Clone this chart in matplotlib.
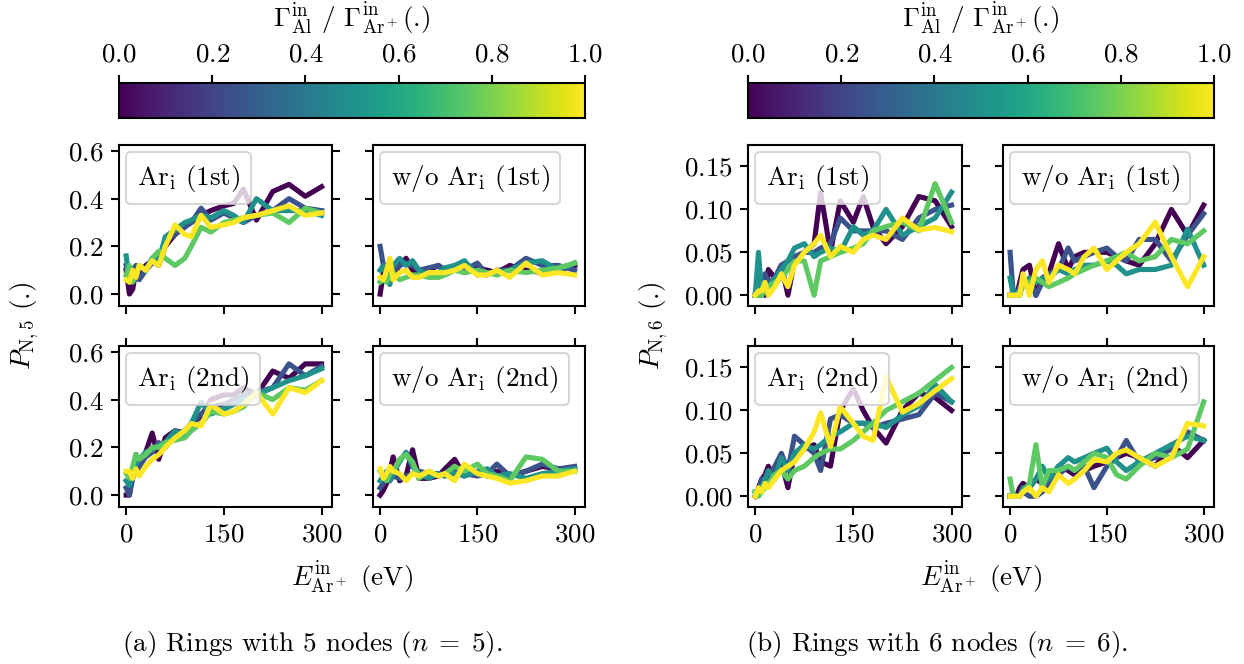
import matplotlib
matplotlib.use("Agg")
import matplotlib.pyplot as plt
import numpy as np
from matplotlib.lines import Line2D

plt.rcParams['font.family'] = 'serif'
plt.rcParams['font.serif'] = ['cmr10']
plt.rcParams['mathtext.fontset'] = 'cm'
plt.rcParams['axes.formatter.use_mathtext'] = True
plt.rcParams['axes.unicode_minus'] = False
plt.rcParams['font.size'] = 19.5
plt.rcParams['axes.linewidth'] = 1.5

FS = 19.5

# incident Ar+ energy (eV)
energy = [0, 5, 10, 15, 20, 30, 40, 50, 60, 75, 90, 100, 115, 130, 150, 165, 180, 200, 225, 250, 275, 300]
# flux ratio of each curve
ratios = [0.0, 0.25, 0.5, 0.75, 1.0]

# (a) n = 5, Ar_i (1st)
a_ari_1st = [
    [0.10, 0.00, 0.02, 0.10, 0.08, 0.12, 0.14, 0.12, 0.20, 0.25, 0.29, 0.30, 0.33, 0.35, 0.37, 0.38, 0.44, 0.31, 0.43, 0.46, 0.41, 0.45],
    [0.12, 0.06, 0.10, 0.12, 0.06, 0.10, 0.13, 0.14, 0.22, 0.25, 0.28, 0.30, 0.36, 0.31, 0.34, 0.32, 0.30, 0.33, 0.35, 0.40, 0.36, 0.35],
    [0.16, 0.05, 0.10, 0.08, 0.12, 0.10, 0.15, 0.14, 0.24, 0.27, 0.30, 0.31, 0.33, 0.32, 0.35, 0.33, 0.30, 0.40, 0.35, 0.35, 0.35, 0.33],
    [0.08, 0.12, 0.05, 0.08, 0.12, 0.10, 0.15, 0.18, 0.15, 0.12, 0.15, 0.20, 0.28, 0.26, 0.30, 0.31, 0.32, 0.33, 0.34, 0.30, 0.36, 0.34],
    [0.06, 0.05, 0.10, 0.07, 0.12, 0.10, 0.14, 0.12, 0.20, 0.29, 0.25, 0.24, 0.33, 0.28, 0.29, 0.30, 0.32, 0.33, 0.35, 0.37, 0.33, 0.34],
]
# (a) n = 5, w/o Ar_i (1st)
a_wo_1st = [
    [0.00, 0.09, 0.07, 0.10, 0.08, 0.12, 0.15, 0.10, 0.08, 0.10, 0.12, 0.10, 0.11, 0.09, 0.11, 0.10, 0.09, 0.12, 0.10, 0.09, 0.10, 0.12],
    [0.20, 0.12, 0.12, 0.05, 0.10, 0.12, 0.13, 0.12, 0.10, 0.11, 0.12, 0.10, 0.12, 0.10, 0.13, 0.08, 0.10, 0.10, 0.15, 0.12, 0.12, 0.10],
    [0.10, 0.12, 0.08, 0.04, 0.12, 0.15, 0.12, 0.14, 0.10, 0.08, 0.09, 0.11, 0.12, 0.14, 0.08, 0.09, 0.09, 0.10, 0.13, 0.14, 0.10, 0.13],
    [0.05, 0.06, 0.05, 0.08, 0.09, 0.06, 0.07, 0.08, 0.08, 0.07, 0.07, 0.08, 0.10, 0.09, 0.10, 0.09, 0.08, 0.10, 0.09, 0.10, 0.11, 0.13],
    [0.07, 0.06, 0.10, 0.15, 0.06, 0.09, 0.10, 0.07, 0.07, 0.09, 0.09, 0.09, 0.10, 0.12, 0.08, 0.08, 0.10, 0.07, 0.13, 0.08, 0.09, 0.08],
]
# (a) n = 5, Ar_i (2nd)
a_ari_2nd = [
    [0.00, 0.00, 0.10, 0.17, 0.12, 0.18, 0.26, 0.15, 0.24, 0.27, 0.26, 0.30, 0.33, 0.40, 0.42, 0.42, 0.45, 0.42, 0.52, 0.49, 0.55, 0.55],
    [0.03, 0.00, 0.07, 0.10, 0.12, 0.16, 0.18, 0.22, 0.20, 0.25, 0.27, 0.30, 0.34, 0.37, 0.38, 0.40, 0.42, 0.43, 0.45, 0.55, 0.50, 0.54],
    [0.06, 0.04, 0.10, 0.13, 0.15, 0.18, 0.19, 0.21, 0.22, 0.27, 0.25, 0.30, 0.39, 0.34, 0.36, 0.38, 0.40, 0.42, 0.45, 0.48, 0.50, 0.53],
    [0.09, 0.07, 0.12, 0.17, 0.15, 0.17, 0.20, 0.20, 0.22, 0.23, 0.24, 0.27, 0.30, 0.35, 0.34, 0.35, 0.37, 0.43, 0.40, 0.45, 0.44, 0.48],
    [0.10, 0.10, 0.07, 0.11, 0.08, 0.12, 0.15, 0.17, 0.20, 0.24, 0.27, 0.30, 0.29, 0.38, 0.34, 0.35, 0.38, 0.43, 0.34, 0.45, 0.43, 0.48],
]
# (a) n = 5, w/o Ar_i (2nd)
a_wo_2nd = [
    [0.00, 0.02, 0.05, 0.10, 0.16, 0.06, 0.08, 0.19, 0.07, 0.07, 0.08, 0.11, 0.15, 0.08, 0.10, 0.08, 0.10, 0.08, 0.10, 0.12, 0.11, 0.11],
    [0.03, 0.05, 0.08, 0.06, 0.08, 0.07, 0.08, 0.09, 0.10, 0.09, 0.09, 0.08, 0.10, 0.09, 0.08, 0.09, 0.13, 0.08, 0.10, 0.13, 0.11, 0.12],
    [0.06, 0.08, 0.10, 0.06, 0.09, 0.14, 0.18, 0.12, 0.09, 0.07, 0.09, 0.08, 0.09, 0.08, 0.10, 0.11, 0.08, 0.09, 0.07, 0.09, 0.10, 0.11],
    [0.10, 0.08, 0.06, 0.09, 0.10, 0.15, 0.17, 0.14, 0.07, 0.10, 0.08, 0.09, 0.12, 0.10, 0.13, 0.09, 0.08, 0.06, 0.16, 0.15, 0.10, 0.10],
    [0.11, 0.07, 0.09, 0.12, 0.10, 0.09, 0.06, 0.09, 0.08, 0.10, 0.08, 0.09, 0.06, 0.13, 0.09, 0.08, 0.07, 0.05, 0.06, 0.08, 0.08, 0.10],
]
# (b) n = 6, Ar_i (1st)
b_ari_1st = [
    [0.00, 0.00, 0.01, 0.00, 0.03, 0.02, 0.035, 0.00, 0.04, 0.05, 0.06, 0.12, 0.05, 0.11, 0.085, 0.115, 0.08, 0.06, 0.08, 0.115, 0.11, 0.08],
    [0.00, 0.00, 0.00, 0.025, 0.015, 0.02, 0.035, 0.04, 0.045, 0.05, 0.05, 0.055, 0.06, 0.09, 0.075, 0.075, 0.075, 0.075, 0.065, 0.09, 0.10, 0.105],
    [0.00, 0.05, 0.00, 0.01, 0.01, 0.02, 0.03, 0.04, 0.055, 0.06, 0.045, 0.05, 0.055, 0.05, 0.08, 0.07, 0.075, 0.10, 0.07, 0.08, 0.09, 0.12],
    [0.00, 0.00, 0.00, 0.01, 0.01, 0.015, 0.02, 0.03, 0.04, 0.04, 0.00, 0.04, 0.045, 0.05, 0.055, 0.06, 0.075, 0.08, 0.085, 0.075, 0.13, 0.085],
    [0.00, 0.005, 0.005, 0.015, 0.00, 0.01, 0.025, 0.01, 0.035, 0.05, 0.06, 0.07, 0.045, 0.057, 0.05, 0.065, 0.07, 0.065, 0.09, 0.076, 0.079, 0.074],
]
# (b) n = 6, w/o Ar_i (1st)
b_wo_1st = [
    [0.00, 0.00, 0.00, 0.015, 0.03, 0.035, 0.00, 0.02, 0.025, 0.06, 0.03, 0.045, 0.05, 0.05, 0.05, 0.045, 0.04, 0.035, 0.06, 0.10, 0.07, 0.105],
    [0.05, 0.00, 0.00, 0.01, 0.015, 0.02, 0.00, 0.015, 0.025, 0.03, 0.055, 0.04, 0.045, 0.05, 0.055, 0.045, 0.04, 0.065, 0.065, 0.04, 0.07, 0.095],
    [0.02, 0.00, 0.00, 0.00, 0.015, 0.02, 0.015, 0.02, 0.02, 0.03, 0.025, 0.03, 0.035, 0.035, 0.04, 0.035, 0.025, 0.03, 0.03, 0.035, 0.077, 0.035],
    [0.00, 0.00, 0.00, 0.005, 0.01, 0.015, 0.02, 0.015, 0.01, 0.015, 0.02, 0.025, 0.03, 0.035, 0.04, 0.045, 0.05, 0.04, 0.045, 0.065, 0.06, 0.075],
    [0.00, 0.00, 0.00, 0.00, 0.025, 0.00, 0.03, 0.04, 0.015, 0.035, 0.03, 0.025, 0.045, 0.055, 0.03, 0.04, 0.05, 0.06, 0.085, 0.045, 0.01, 0.045],
]
# (b) n = 6, Ar_i (2nd)
b_ari_2nd = [
    [0.00, 0.01, 0.02, 0.025, 0.035, 0.02, 0.04, 0.01, 0.05, 0.055, 0.06, 0.04, 0.035, 0.10, 0.125, 0.10, 0.08, 0.062, 0.10, 0.12, 0.115, 0.10],
    [0.00, 0.005, 0.02, 0.015, 0.02, 0.035, 0.05, 0.03, 0.07, 0.06, 0.05, 0.03, 0.09, 0.095, 0.085, 0.085, 0.08, 0.085, 0.09, 0.095, 0.12, 0.11],
    [0.005, 0.005, 0.01, 0.02, 0.03, 0.02, 0.045, 0.03, 0.05, 0.06, 0.055, 0.06, 0.07, 0.075, 0.085, 0.085, 0.085, 0.08, 0.095, 0.105, 0.13, 0.11],
    [0.005, 0.00, 0.005, 0.01, 0.015, 0.025, 0.03, 0.02, 0.03, 0.035, 0.045, 0.05, 0.055, 0.055, 0.065, 0.075, 0.085, 0.10, 0.11, 0.12, 0.135, 0.15],
    [0.00, 0.01, 0.005, 0.015, 0.01, 0.02, 0.03, 0.035, 0.04, 0.055, 0.075, 0.097, 0.058, 0.104, 0.085, 0.07, 0.065, 0.139, 0.098, 0.108, 0.123, 0.137],
]
# (b) n = 6, w/o Ar_i (2nd)
b_wo_2nd = [
    [0.00, 0.00, 0.00, 0.01, 0.015, 0.01, 0.02, 0.015, 0.02, 0.035, 0.03, 0.025, 0.03, 0.035, 0.04, 0.045, 0.05, 0.045, 0.035, 0.06, 0.045, 0.065],
    [0.00, 0.00, 0.00, 0.00, 0.005, 0.00, 0.00, 0.005, 0.015, 0.025, 0.035, 0.03, 0.035, 0.01, 0.035, 0.045, 0.065, 0.04, 0.045, 0.055, 0.075, 0.065],
    [0.00, 0.00, 0.00, 0.00, 0.01, 0.01, 0.02, 0.035, 0.02, 0.035, 0.045, 0.04, 0.045, 0.05, 0.056, 0.04, 0.03, 0.04, 0.05, 0.06, 0.07, 0.065],
    [0.02, 0.00, 0.00, 0.00, 0.005, 0.015, 0.06, 0.01, 0.03, 0.03, 0.035, 0.03, 0.04, 0.05, 0.045, 0.025, 0.02, 0.035, 0.05, 0.045, 0.055, 0.11],
    [0.00, 0.00, 0.00, 0.00, 0.005, 0.01, 0.00, 0.01, 0.005, 0.025, 0.015, 0.02, 0.03, 0.043, 0.04, 0.05, 0.054, 0.045, 0.035, 0.045, 0.085, 0.082],
]

panel_titles = [r'Ar$_\mathrm{i}$ (1st)', r'w/o Ar$_\mathrm{i}$ (1st)',
                r'Ar$_\mathrm{i}$ (2nd)', r'w/o Ar$_\mathrm{i}$ (2nd)']
xticks = [0, 150, 300]
yticks_a = [0.0, 0.2, 0.4, 0.6]
yticks_b = [0.00, 0.05, 0.10, 0.15]
cbar_ticks = [0.0, 0.2, 0.4, 0.6, 0.8, 1.0]

W, H = 1244, 664
fig = plt.figure(figsize=(W / 100, H / 100), dpi=100)


def px_axes(x0, x1, y0, y1):
    return fig.add_axes([x0 / W, 1 - y1 / H, (x1 - x0) / W, (y1 - y0) / H])


cmap = plt.get_cmap('viridis')
norm = matplotlib.colors.Normalize(0, 1)


def draw_group(cols, series, yticks, ylim, ylabel, ylabel_x, caption, cap_x):
    rows = [(145, 306), (346, 507)]
    k = 0
    for r, (y0, y1) in enumerate(rows):
        for c, (x0, x1) in enumerate(cols):
            ax = px_axes(x0, x1, y0, y1)
            for ratio, vals in zip(ratios, series[k]):
                ax.plot(energy, vals, color=cmap(norm(ratio)), lw=3.7)
            ax.set_xlim(-11, 316)
            ax.set_ylim(*ylim)
            ax.set_xticks(xticks)
            ax.set_yticks(yticks)
            ax.tick_params(direction='out', length=6, width=1.5,
                           labelsize=FS, pad=5,
                           top=(r == 1), right=(c == 0),
                           labelbottom=(r == 1), labelleft=(c == 0))
            leg = ax.legend([Line2D([], [], linestyle='none')], [panel_titles[k]],
                            loc='upper left', handlelength=0, handletextpad=0,
                            borderaxespad=0.25, fontsize=FS, framealpha=0.8,
                            borderpad=0.4)
            leg.get_frame().set_linewidth(1.5)
            k += 1
    # colorbar on top
    cax = px_axes(cols[0][0], cols[1][1], 83, 118)
    sm = matplotlib.cm.ScalarMappable(norm=norm, cmap=cmap)
    cb = fig.colorbar(sm, cax=cax, orientation='horizontal')
    cb.set_ticks(cbar_ticks)
    cb.outline.set_linewidth(1.5)
    cax.xaxis.set_ticks_position('top')
    cax.xaxis.set_label_position('top')
    cax.tick_params(length=6, width=1.5, labelsize=FS, pad=6)
    cb.set_label(r'$\Gamma^\mathrm{in}_\mathrm{Al}$ / $\Gamma^\mathrm{in}_\mathrm{Ar^+}$(.)',
                 fontsize=FS, labelpad=11)
    xc = (cols[0][0] + cols[1][1]) / 2
    fig.text(ylabel_x / W, 1 - 326 / H, ylabel, rotation=90,
             ha='center', va='center', fontsize=FS)
    fig.text(xc / W, 1 - 578 / H, r'$E^\mathrm{in}_\mathrm{Ar^+}$ (eV)',
             ha='center', va='center', fontsize=FS)
    fig.text(cap_x / W, 1 - 645 / H, caption, ha='center', va='center', fontsize=FS)


draw_group([(119, 332), (373, 585)], [a_ari_1st, a_wo_1st, a_ari_2nd, a_wo_2nd],
           yticks_a, (-0.05, 0.625), r'$P_\mathrm{N,5}$ (.)', 25,
           r'(a) Rings with 5 nodes ($n\;=\;5$).', 312)
draw_group([(748, 962), (1003, 1214)], [b_ari_1st, b_wo_1st, b_ari_2nd, b_wo_2nd],
           yticks_b, (-0.0125, 0.175), r'$P_\mathrm{N,6}$ (.)', 654,
           r'(b) Rings with 6 nodes ($n\;=\;6$).', 937)

fig.savefig('out.png', dpi=100)
